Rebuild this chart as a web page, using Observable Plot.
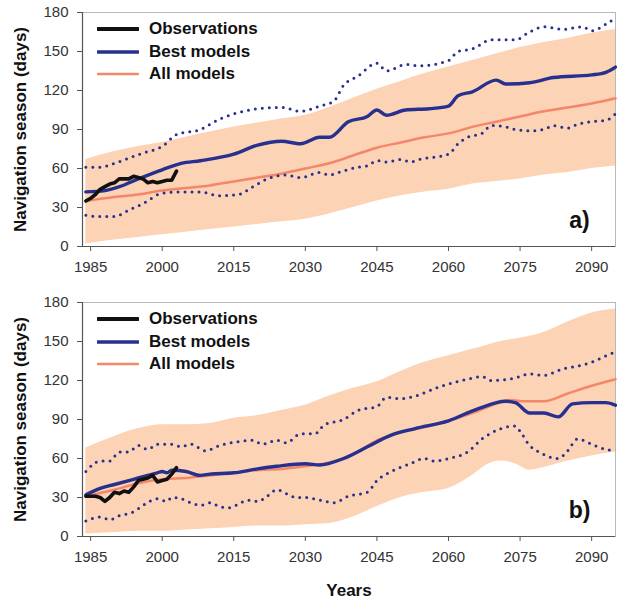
<!DOCTYPE html>
<html>
<head>
<meta charset="utf-8">
<script src="https://cdn.jsdelivr.net/npm/d3@7"></script>
<script src="https://cdn.jsdelivr.net/npm/@observablehq/plot@0.6"></script>
<style>
  body { margin: 0; background: #fff; font-family: "Liberation Sans", Arial, sans-serif; }
  .panel { position: relative; width: 617px; }
  .legend { position: absolute; left: 97px; font-weight: bold; font-size: 17px; color: #111; }
  .legend .row { display: flex; align-items: center; height: 22.5px; }
  .legend svg { margin-right: 10px; }
</style>
</head>
<body>
<div id="chart"></div>
<script>
// Navigation season length (days), 1984–2095

const xDomain = [1983.3, 2095];
const yDomain = [0, 180];
const xTicks = [1985, 2000, 2015, 2030, 2045, 2060, 2075, 2090];
const yTicks = [0, 30, 60, 90, 120, 150, 180];

const seriesNames = ["Observations", "Best models", "All models"];
const seriesColors = ["#111111", "#28308f", "#f4876a"];
const bandColor = "#fcd3b4";

// ---- Panel a ----
const bandYearsA = [1984, 1990, 1995, 2000, 2005, 2010, 2015, 2020, 2025, 2030, 2035, 2040, 2045, 2050, 2055, 2060, 2065, 2070, 2075, 2080, 2085, 2090, 2095];
const bandHiA = [67, 73, 77, 80, 84, 88, 92, 95, 98, 101, 107, 114, 121, 127, 133, 138, 143, 148, 153, 157, 160, 164, 167];
const bandLoA = [2, 5, 7, 9, 11, 13, 15, 17, 19, 21, 25, 30, 35, 39, 42, 44, 48, 50, 52, 55, 57, 60, 62];

const obsYearsA = [1984, 1985, 1986, 1987, 1988, 1989, 1990, 1991, 1992, 1993, 1994, 1995, 1996, 1997, 1998, 1999, 2000, 2001, 2002, 2003];
const obsA = [35, 37, 40, 44, 46, 48, 49, 52, 52, 52, 54, 53, 52, 49, 50, 49, 50, 51, 51, 58];

const bestYearsA = [1984, 1988, 1991, 1995, 2000, 2004, 2008, 2015, 2020, 2025, 2029, 2033, 2035, 2039, 2043, 2045, 2047, 2051, 2056, 2060, 2062, 2065, 2070, 2072, 2077, 2082, 2090, 2093, 2095];
const bestA = [42, 43, 46, 52, 59, 64, 66, 71, 78, 81, 79, 84, 84, 96, 100, 105, 101, 105, 106, 108, 116, 119, 128, 125, 126, 130, 132, 134, 138];

const allYearsA = [1984, 1990, 1995, 2000, 2005, 2010, 2015, 2020, 2025, 2030, 2035, 2040, 2045, 2050, 2055, 2060, 2065, 2070, 2075, 2080, 2085, 2090, 2095];
const allA = [35, 38, 40, 43, 45, 47, 50, 53, 56, 60, 64, 70, 76, 80, 84, 87, 92, 96, 100, 104, 107, 110, 114];

const hiYearsA = [1984, 1987, 1990, 1993, 1996, 2000, 2003, 2008, 2012, 2015, 2020, 2025, 2029, 2033, 2036, 2038, 2041, 2045, 2047, 2051, 2054, 2060, 2062, 2065, 2069, 2074, 2077, 2080, 2084, 2088, 2090, 2093, 2095];
const hiA = [61, 61, 64, 68, 72, 77, 86, 90, 98, 102, 106, 107, 104, 108, 112, 124, 131, 141, 135, 140, 139, 143, 150, 152, 159, 159, 165, 169, 167, 169, 166, 171, 176];

const loYearsA = [1984, 1987, 1990, 1993, 1996, 2000, 2004, 2008, 2012, 2016, 2019, 2022, 2026, 2029, 2033, 2035, 2037, 2041, 2043, 2045, 2047, 2050, 2052, 2054, 2060, 2062, 2064, 2067, 2069, 2072, 2074, 2077, 2080, 2082, 2085, 2087, 2090, 2093, 2095];
const loA = [24, 23, 23, 28, 33, 41, 42, 42, 39, 40, 46, 52, 55, 53, 57, 55, 57, 61, 62, 66, 65, 67, 65, 67, 71, 79, 84, 87, 93, 92, 90, 89, 90, 93, 91, 94, 96, 97, 102];

// ---- Panel b ----
const bandYearsB = [1984, 1990, 1995, 2000, 2005, 2010, 2015, 2020, 2025, 2030, 2035, 2040, 2045, 2050, 2055, 2060, 2065, 2068, 2071, 2074, 2077, 2080, 2085, 2090, 2095];
const bandHiB = [68, 77, 83, 86, 86, 87, 91, 93, 97, 101, 108, 114, 119, 127, 134, 139, 144, 147, 150, 152, 154, 157, 165, 172, 175];
const bandLoB = [2, 3, 4, 4, 5, 6, 7, 8, 8, 9, 10, 15, 23, 30, 34, 37, 47, 55, 58, 56, 51, 53, 58, 62, 65];

const obsYearsB = [1984, 1985, 1986, 1987, 1988, 1989, 1990, 1991, 1992, 1993, 1994, 1995, 1996, 1997, 1998, 1999, 2000, 2001, 2002, 2003];
const obsB = [31, 31, 31, 30, 27, 30, 34, 33, 35, 34, 38, 43, 44, 45, 47, 42, 43, 44, 48, 53];

const bestYearsB = [1984, 1987, 1990, 1994, 1996, 1999, 2000, 2001, 2002, 2005, 2008, 2010, 2015, 2020, 2024, 2030, 2033, 2038, 2043, 2048, 2053, 2060, 2066, 2072, 2074, 2077, 2080, 2083, 2086, 2090, 2093, 2095];
const bestB = [32, 37, 40, 44, 46, 49, 50, 49, 51, 50, 47, 48, 49, 52, 54, 56, 55, 60, 69, 78, 83, 89, 98, 104, 103, 95, 95, 92, 102, 103, 103, 101];

const allYearsB = [1984, 1990, 1995, 2000, 2005, 2010, 2015, 2020, 2025, 2030, 2035, 2040, 2045, 2050, 2055, 2060, 2065, 2070, 2073, 2076, 2080, 2085, 2090, 2095];
const allB = [31, 36, 41, 44, 45, 47, 49, 51, 52, 54, 57, 63, 74, 80, 84, 89, 95, 102, 105, 104, 104, 110, 116, 121];

const hiYearsB = [1984, 1987, 1989, 1991, 1993, 1995, 1997, 1999, 2002, 2004, 2006, 2009, 2012, 2016, 2019, 2021, 2024, 2026, 2029, 2032, 2034, 2038, 2041, 2045, 2047, 2050, 2053, 2058, 2064, 2067, 2069, 2074, 2077, 2080, 2084, 2087, 2090, 2093, 2095];
const hiB = [50, 58, 58, 65, 65, 70, 67, 71, 71, 69, 71, 66, 70, 73, 74, 71, 74, 72, 79, 79, 86, 90, 97, 100, 107, 106, 108, 115, 121, 123, 120, 122, 125, 124, 129, 131, 134, 139, 142];

const loYearsB = [1984, 1987, 1989, 1991, 1994, 1996, 1999, 2001, 2002, 2004, 2006, 2008, 2010, 2012, 2014, 2016, 2018, 2020, 2022, 2024, 2026, 2028, 2030, 2033, 2036, 2039, 2043, 2045, 2048, 2052, 2055, 2057, 2060, 2064, 2067, 2071, 2074, 2075, 2077, 2079, 2083, 2085, 2087, 2090, 2093, 2095];
const loB = [12, 15, 13, 16, 19, 24, 29, 27, 30, 29, 26, 24, 26, 23, 22, 25, 28, 27, 31, 36, 33, 30, 30, 28, 26, 31, 34, 43, 50, 56, 60, 58, 60, 65, 75, 83, 85, 81, 70, 65, 60, 66, 75, 71, 67, 66];

const zip = (xs, ys) => xs.map((x, i) => ({x, y: ys[i]}));
const zipBand = (xs, lo, hi) => xs.map((x, i) => ({x, lo: lo[i], hi: hi[i]}));

function panel(p) {
  const {band, obs, best, all, hi, lo, tag, height, marginBottom, withXLabel} = p;
  const dotted = {x: "x", y: "y", stroke: seriesColors[1], strokeWidth: 3, strokeDasharray: "0 7", strokeLinecap: "round", curve: "monotone-x"};
  const marks = [
    Plot.areaY(band, {x: "x", y1: "lo", y2: "hi", fill: bandColor, curve: "monotone-x"}),
    Plot.frame({stroke: "#b8b8b8", strokeWidth: 1}),
    Plot.ruleX([xDomain[0]], {stroke: "#555", strokeWidth: 1.2}),
    Plot.ruleY([yDomain[0]], {stroke: "#555", strokeWidth: 1.2}),
    Plot.axisX({ticks: xTicks, tickFormat: d => String(d), tickSize: 5, tickPadding: 10, fontSize: 15, label: null, stroke: "#555"}),
    Plot.axisY({ticks: yTicks, tickSize: 5, tickPadding: 9, fontSize: 15, label: null, stroke: "#555"}),
    Plot.line(all, {x: "x", y: "y", stroke: seriesColors[2], strokeWidth: 2.5, curve: "monotone-x"}),
    Plot.line(hi, dotted),
    Plot.line(lo, dotted),
    Plot.line(best, {x: "x", y: "y", stroke: seriesColors[1], strokeWidth: 3.4, curve: "monotone-x"}),
    Plot.line(obs, {x: "x", y: "y", stroke: seriesColors[0], strokeWidth: 3.6, strokeLinejoin: "round"}),
    Plot.text([tag], {frameAnchor: "bottom-right", dx: -36, dy: -26, textAnchor: "middle", lineAnchor: "middle", fontSize: 23, fontWeight: "bold", fill: "#111"}),
    Plot.text(["Navigation season (days)"], {frameAnchor: "left", rotate: -90, dx: -62, textAnchor: "middle", lineAnchor: "middle", fontSize: 17, fontWeight: "bold", fill: "#111"})
  ];
  if (withXLabel) {
    marks.push(Plot.text(["Years"], {frameAnchor: "bottom", dy: 54, lineAnchor: "middle", fontSize: 17, fontWeight: "bold", fill: "#111"}));
  }
  return Plot.plot({
    width: 617,
    height,
    marginTop: 12,
    marginBottom,
    marginLeft: 82,
    marginRight: 2,
    x: {domain: xDomain},
    y: {domain: yDomain},
    style: {fontFamily: "'Liberation Sans', Arial, sans-serif", fontSize: "15px", color: "#333", background: "white", overflow: "visible"},
    marks
  });
}

function legend(top) {
  const div = document.createElement("div");
  div.className = "legend";
  div.style.top = top + "px";
  const widths = [4, 3.5, 2.5];
  seriesNames.forEach((name, i) => {
    const row = document.createElement("div");
    row.className = "row";
    row.innerHTML = `<svg width="42" height="8"><line x1="1" x2="41" y1="4" y2="4" stroke="${seriesColors[i]}" stroke-width="${widths[i]}" stroke-linecap="round"/></svg><span>${name}</span>`;
    div.appendChild(row);
  });
  return div;
}

const root = document.getElementById("chart");

const pa = document.createElement("div");
pa.className = "panel";
pa.appendChild(panel({
  band: zipBand(bandYearsA, bandLoA, bandHiA),
  obs: zip(obsYearsA, obsA), best: zip(bestYearsA, bestA), all: zip(allYearsA, allA),
  hi: zip(hiYearsA, hiA), lo: zip(loYearsA, loA),
  tag: "a)", height: 290, marginBottom: 44, withXLabel: false
}));
pa.appendChild(legend(18));
root.appendChild(pa);

const pb = document.createElement("div");
pb.className = "panel";
pb.appendChild(panel({
  band: zipBand(bandYearsB, bandLoB, bandHiB),
  obs: zip(obsYearsB, obsB), best: zip(bestYearsB, bestB), all: zip(allYearsB, allB),
  hi: zip(hiYearsB, hiB), lo: zip(loYearsB, loB),
  tag: "b)", height: 310, marginBottom: 64, withXLabel: true
}));
pb.appendChild(legend(18));
root.appendChild(pb);

document.querySelectorAll("svg").forEach(s => s.style.display = "block");
</script>
</body>
</html>
